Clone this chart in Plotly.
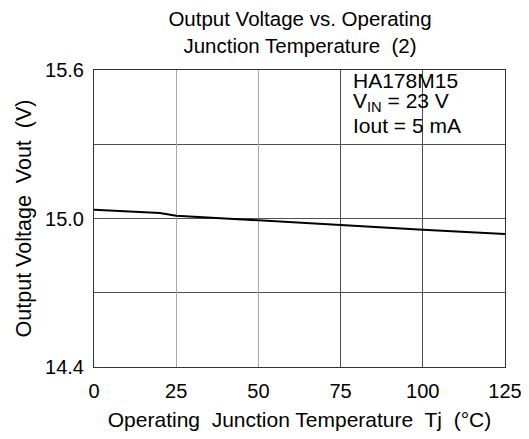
import plotly.graph_objects as go

# output voltage vs junction temperature
temp_c = [0, 10, 20, 25, 50, 75, 100, 125]
vout_v = [15.035, 15.029, 15.022, 15.011, 14.991, 14.974, 14.955, 14.937]

x_ticks = [0, 25, 50, 75, 100, 125]
x_grid_light = [25, 50]
x_grid_dark = [75, 100]
y_ticks = [14.4, 14.7, 15.0, 15.3, 15.6]
y_tick_text = ["14.4", "", "15.0", "", "15.6"]

# conditions box text, one line per entry
note_lines = ["HA178M15", "V<sub>IN</sub> = 23 V", "Iout = 5 mA"]
note_y = [15.557, 15.47, 15.375]

font = "Liberation Sans, Arial, sans-serif"
sp2 = "\u00a0 "  # keep the double spaces

fig = go.Figure()
fig.add_trace(go.Scatter(
    x=temp_c,
    y=vout_v,
    mode="lines",
    line=dict(color="black", width=2),
    showlegend=False,
))
# empty traces so the two overlaid grid axes get drawn
for ax in ["x2", "x3"]:
    fig.add_trace(go.Scatter(x=[], y=[], xaxis=ax, yaxis="y",
                             showlegend=False, hoverinfo="skip"))

for txt, yy in zip(note_lines, note_y):
    fig.add_annotation(
        x=78.3, y=yy, xref="x", yref="y",
        text=txt, showarrow=False,
        xanchor="left", yanchor="middle", align="left",
        font=dict(size=21, color="black", family=font),
    )

# the page body adds an 8px offset, margins are set to make up for it
fig.update_layout(
    width=529,
    height=439,
    margin=dict(l=86, r=32, t=62, b=80),
    paper_bgcolor="white",
    plot_bgcolor="white",
    font=dict(family=font, color="black"),
    title=dict(
        text="Output Voltage vs. Operating<br>Junction Temperature" + sp2 + "(2)",
        x=0.552, xanchor="center", xref="container",
        y=0.959, yanchor="top", yref="container",
        font=dict(size=20.5),
    ),
    xaxis=dict(
        range=[0, 125],
        tickvals=x_ticks,
        showgrid=False,
        showline=True, linecolor="#333333", linewidth=1, mirror=True,
        zeroline=False, ticks="",
        ticklabelstandoff=6,
        tickfont=dict(size=20),
        title=dict(text="Operating" + sp2 + "Junction Temperature" + sp2 + "Tj" + sp2 + "(°C)",
                   font=dict(size=21), standoff=11),
    ),
    xaxis2=dict(overlaying="x", range=[0, 125], tickvals=x_grid_light,
                showgrid=True, gridcolor="#a8a8a8", gridwidth=1,
                showticklabels=False, ticks="", zeroline=False, showline=False),
    xaxis3=dict(overlaying="x", range=[0, 125], tickvals=x_grid_dark,
                showgrid=True, gridcolor="#505050", gridwidth=1,
                showticklabels=False, ticks="", zeroline=False, showline=False),
    yaxis=dict(
        range=[14.4, 15.6],
        tickvals=y_ticks,
        ticktext=y_tick_text,
        showgrid=True, gridcolor="#505050", gridwidth=1,
        showline=True, linecolor="#333333", linewidth=1, mirror=True,
        zeroline=False, ticks="",
        ticklabelstandoff=5,
        tickfont=dict(size=20),
        title=dict(text="Output Voltage" + sp2 + "Vout" + sp2 + "(V)", font=dict(size=21.5), standoff=7),
    ),
)

fig.write_html("out.html")
